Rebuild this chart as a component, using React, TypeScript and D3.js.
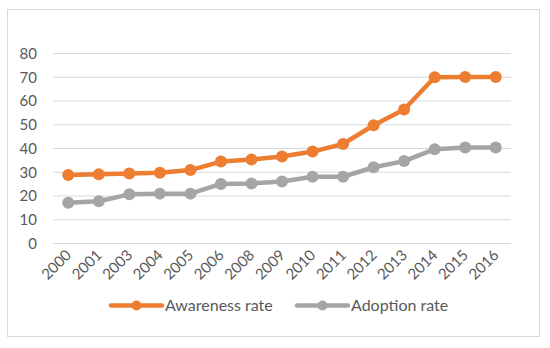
import React, { useEffect, useRef } from 'react';
import * as d3 from 'd3';

const years = ['2000', '2001', '2003', '2004', '2005', '2006', '2008', '2009', '2010', '2011', '2012', '2013', '2014', '2015', '2016'];
const awareness = [28.8, 29.2, 29.5, 29.8, 30.9, 34.5, 35.4, 36.6, 38.7, 41.9, 49.8, 56.4, 70.0, 70.1, 70.1];
const adoption = [17.2, 17.8, 20.7, 21.0, 21.0, 25.1, 25.3, 26.1, 28.1, 28.1, 32.1, 34.7, 39.7, 40.4, 40.4];
const yTicks = [0, 10, 20, 30, 40, 50, 60, 70, 80];

const series = [
  { name: 'Awareness rate', values: awareness, color: '#ED7D31' },
  { name: 'Adoption rate', values: adoption, color: '#A5A5A5' },
];

const App = () => {
  const ref = useRef<SVGSVGElement>(null);

  useEffect(() => {
    const svg = d3.select(ref.current);
    svg.selectAll('*').remove();

    const font = 'Lato, "Liberation Sans", sans-serif';
    const textColor = '#595959';

    // outer frame
    svg.append('rect')
      .attr('x', 7.5).attr('y', 9.5)
      .attr('width', 532).attr('height', 327)
      .attr('fill', '#fff').attr('stroke', '#D9D9D9').attr('stroke-width', 1);

    const x = d3.scaleBand().domain(years).range([53, 511]).padding(0);
    const y = d3.scaleLinear().domain([0, 80]).range([243.5, 53.5]);
    const cx = (d: string) => (x(d) as number) + x.bandwidth() / 2;

    // grid
    svg.append('g').selectAll('line').data(yTicks).enter().append('line')
      .attr('x1', 53).attr('x2', 511)
      .attr('y1', d => y(d)).attr('y2', d => y(d))
      .attr('stroke', '#D9D9D9').attr('stroke-width', 1);

    svg.append('g').selectAll('text').data(yTicks).enter().append('text')
      .attr('x', 37).attr('y', d => y(d)).attr('dy', '0.35em')
      .attr('text-anchor', 'end')
      .style('font-family', font).style('font-size', '15px').attr('fill', textColor)
      .text(d => d);

    svg.append('g').selectAll('text').data(years).enter().append('text')
      .attr('transform', d => `translate(${cx(d) + 4},${256}) rotate(-45)`)
      .attr('text-anchor', 'end')
      .style('font-family', font).style('font-size', '15px').attr('fill', textColor)
      .text(d => d);

    const line = d3.line<number>().x((d, i) => cx(years[i])).y(d => y(d));

    series.forEach(s => {
      const g = svg.append('g');
      g.append('path').datum(s.values)
        .attr('d', line).attr('fill', 'none')
        .attr('stroke', s.color).attr('stroke-width', 4.5)
        .attr('stroke-linejoin', 'round');
      g.selectAll('circle').data(s.values).enter().append('circle')
        .attr('cx', (d, i) => cx(years[i])).attr('cy', d => y(d))
        .attr('r', 6).attr('fill', s.color);
    });

    // legend
    const legendX = [111, 297];
    series.forEach((s, i) => {
      const g = svg.append('g').attr('transform', `translate(${legendX[i]},305.5)`);
      g.append('line').attr('x1', 0).attr('x2', 51).attr('y1', 0).attr('y2', 0)
        .attr('stroke', s.color).attr('stroke-width', 4.5).attr('stroke-linecap', 'round');
      g.append('circle').attr('cx', 25.5).attr('cy', 0).attr('r', 5).attr('fill', s.color);
      g.append('text').attr('x', 54).attr('y', 0).attr('dy', '0.35em')
        .style('font-family', font).style('font-size', '16px').attr('fill', textColor)
        .text(s.name);
    });
  }, []);

  return <svg ref={ref} width={550} height={348} style={{ position: 'absolute', left: 0, top: 0, background: '#fff' }} />;
};

export default App;
